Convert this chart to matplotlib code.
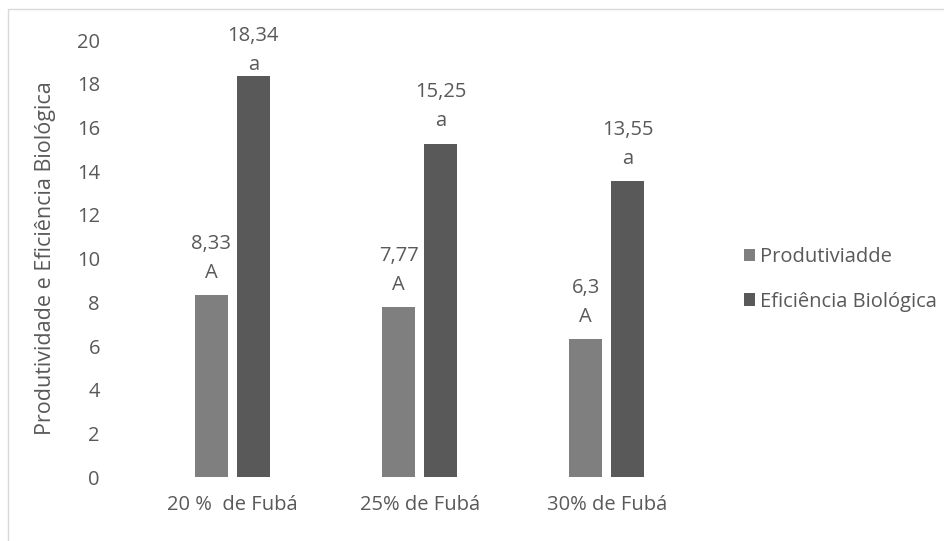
import numpy as np
import matplotlib
matplotlib.use("Agg")
import matplotlib.pyplot as plt
from matplotlib.patches import Rectangle

categorias = ["20 %  de Fubá", "25% de Fubá", "30% de Fubá"]
produtividade = [8.33, 7.77, 6.3]
eficiencia = [18.34, 15.25, 13.55]
letras_prod = ["A", "A", "A"]
letras_efic = ["a", "a", "a"]
yticks = [0, 2, 4, 6, 8, 10, 12, 14, 16, 18, 20]

cinza_claro = "#7f7f7f"
cinza_escuro = "#595959"
texto = "#595959"

plt.rcParams["font.family"] = ["Open Sans", "DejaVu Sans"]
plt.rcParams["font.size"] = 14

fig = plt.figure(figsize=(9.44, 5.41), dpi=100)
ax = fig.add_axes([0.147, 0.118, 0.595, 0.808])

# moldura clara em volta do gráfico
fig.patches.append(Rectangle((8 / 944, -0.05), 1.1, 1 - 9 / 541 + 0.05,
                             transform=fig.transFigure, fill=False,
                             edgecolor="#d9d9d9", linewidth=1))

x = np.arange(len(categorias))
larg = 0.176
desloc = (larg + 9 / 187) / 2

b1 = ax.bar(x - desloc, produtividade, larg, color=cinza_claro, label="Produtiviadde")
b2 = ax.bar(x + desloc, eficiencia, larg, color=cinza_escuro, label="Eficiência Biológica")


def rotulo(v):
    return f"{v:g}".replace(".", ",")


for barras, vals, letras in [(b1, produtividade, letras_prod), (b2, eficiencia, letras_efic)]:
    for b, v, l in zip(barras, vals, letras):
        # rótulo alto demais fica encostado no topo da área
        desl = 9 if v < 17 else 1
        ax.annotate(f"{rotulo(v)}\n{l}", (b.get_x() + b.get_width() / 2, v),
                    xytext=(0, desl), textcoords="offset points",
                    ha="center", va="bottom", color=texto, fontsize=14.5,
                    linespacing=1.6)

ax.set_xlim(-0.5, len(categorias) - 0.5)
ax.set_ylim(0, 20)
ax.set_yticks(yticks)
ax.set_xticks(x)
ax.set_xticklabels(categorias)
ax.tick_params(length=0, colors=texto, labelsize=14.5)
ax.tick_params(axis="y", pad=28)
ax.tick_params(axis="x", pad=13)
for s in ax.spines.values():
    s.set_visible(False)

ax.set_ylabel("Produtividade e Eficiência Biológica", color=texto, fontsize=15.5, labelpad=15)

leg = ax.legend(loc="center left", bbox_to_anchor=(1.045, 0.452), frameon=False,
                handlelength=0.55, handleheight=0.55, handletextpad=0.25,
                labelspacing=1.2, fontsize=14.5)
for t in leg.get_texts():
    t.set_color(texto)

fig.savefig("out.png", dpi=100)
